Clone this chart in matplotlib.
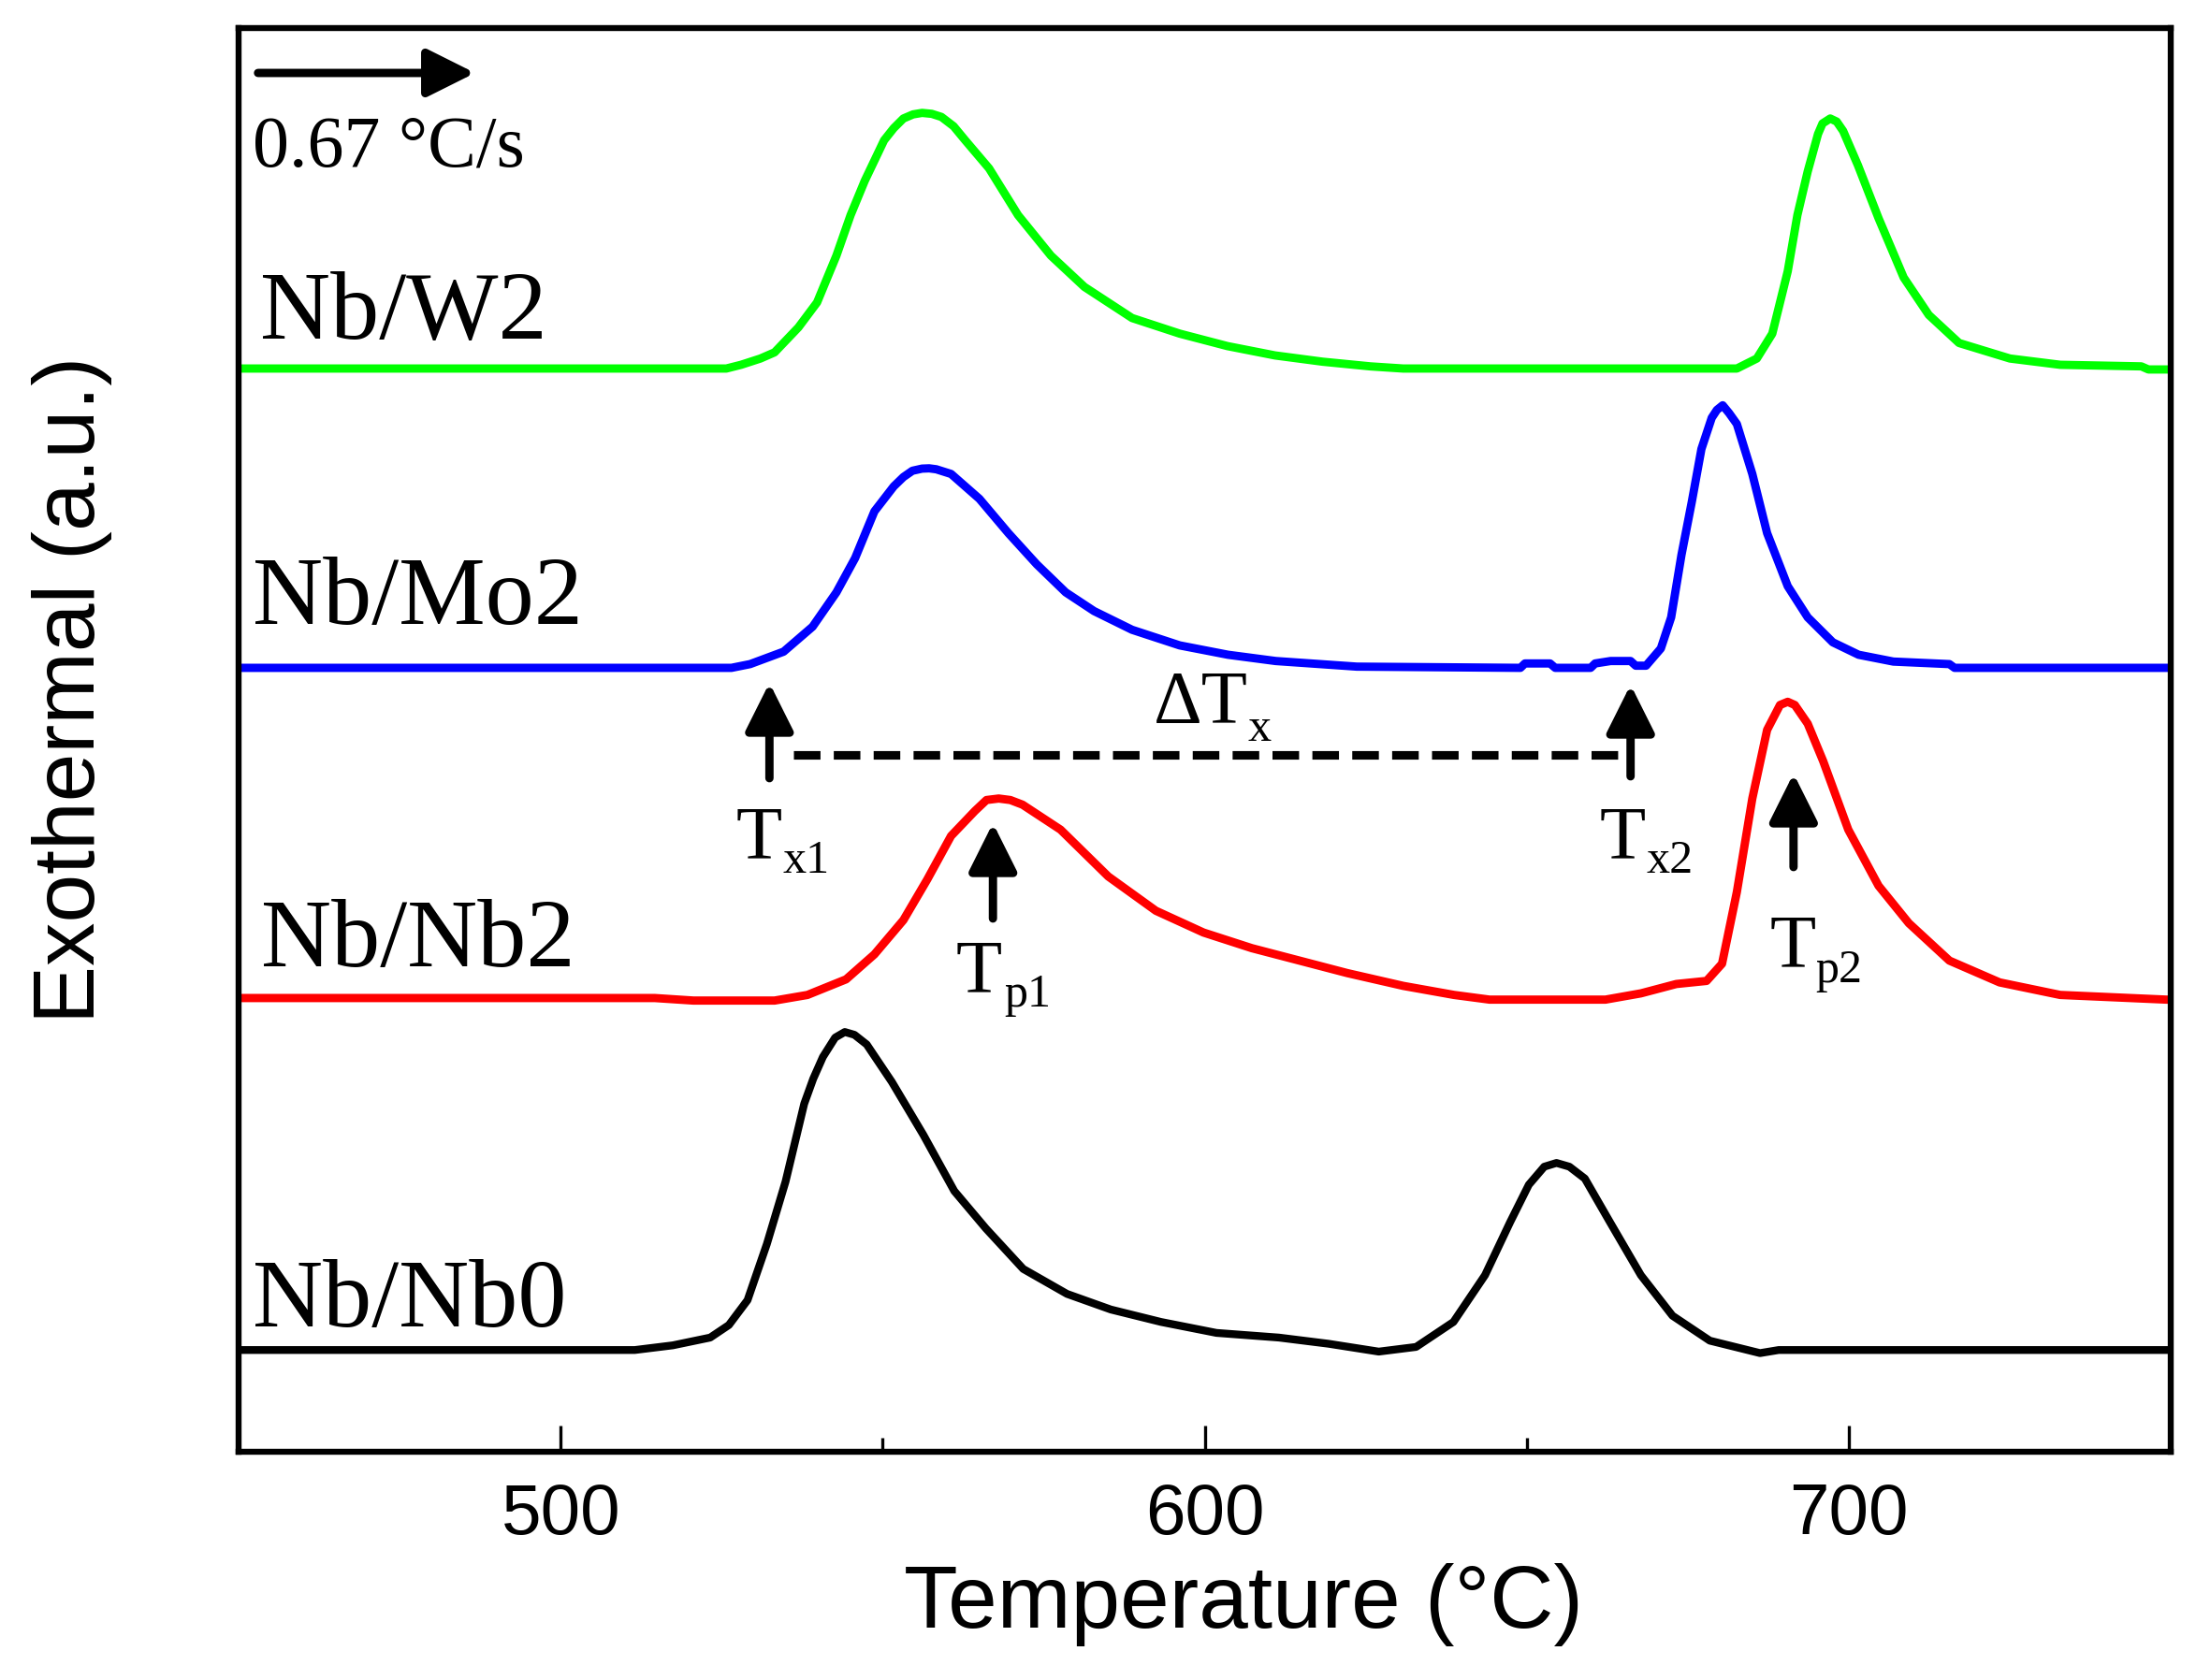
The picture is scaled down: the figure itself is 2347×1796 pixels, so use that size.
import matplotlib
matplotlib.use('Agg')
import numpy as np
import matplotlib.pyplot as plt
from matplotlib.ticker import MultipleLocator

# DSC traces: temperature (C) and heat flow above each baseline (a.u.)
w2_temp = [450, 525.7, 528.0, 531.0, 533.2, 536.9, 539.8, 542.8, 545.0, 547.2, 550.2, 551.7,
           553.2, 554.7, 556.1, 557.6, 559.1, 561.0, 562.8, 566.5, 571.0, 576.1, 581.3, 588.7,
           596.1, 603.5, 610.9, 618.3, 625.7, 630.8, 682.6, 685.7, 688.1, 690.5, 692.0, 693.6,
           695.2, 695.9, 697.1, 698.1, 699.1, 701.4, 704.6, 708.5, 712.4, 717.1, 725.0, 732.8,
           745.4, 746.5, 750]
w2_heat = [0, 0, 4, 10.7, 17.3, 44, 70.7, 120.7, 164, 200.7, 244, 257,
           267.3, 271.7, 273.3, 272.3, 269, 259, 244, 214, 164, 120.7, 87.3, 54,
           37.3, 24, 14, 7.3, 2.3, 0, 0, 10.7, 37.3, 104, 164, 210.7,
           250.7, 262, 267.3, 264, 254, 217.3, 160.7, 97.3, 57.3, 27.3, 10.7, 4,
           2.3, -1, -1]

mo2_temp = [450, 526.5, 529.4, 534.6, 539.1, 542.8, 545.7, 548.7, 551.7, 553.2, 554.6, 556.1,
            557.2, 558.3, 560.6, 565.0, 569.5, 573.9, 578.4, 582.8, 588.7, 596.1, 603.6, 611.0,
            623.6, 649.0, 649.7, 653.6, 654.4, 659.9, 660.6, 663.0, 666.1, 666.9, 668.5, 670.8,
            672.4, 674.0, 675.6, 677.1, 678.7, 679.5, 680.4, 681.4, 682.6, 685.0, 687.3, 690.5,
            693.6, 697.5, 701.5, 706.9, 715.6, 716.4, 750]
mo2_heat = [0, 0, 4, 17.3, 44, 80.7, 117.3, 167.3, 194, 204, 210.7, 213,
            213.3, 212.3, 207.3, 180.7, 144, 110.7, 80.7, 60.7, 40.7, 24, 14, 7.3,
            1.3, 0, 4.7, 4.7, 0, 0, 4.7, 7.3, 7.3, 2.3, 2.3, 20.7,
            54, 120.7, 177.3, 234, 267.3, 275.7, 280.7, 272.3, 260.7, 207.3, 144, 87.3,
            54, 27.3, 14, 6.7, 4, 0, 0]

nb2_temp = [450, 514.6, 520.6, 533.2, 538.3, 544.3, 548.7, 553.2, 556.9, 560.6, 564.3, 566.1,
            568.0, 569.8, 571.7, 577.6, 585.0, 592.4, 599.8, 607.3, 614.7, 622.1, 630.8, 638.7,
            644.2, 662.2, 667.7, 673.2, 677.9, 680.3, 682.6, 685.0, 687.3, 689.3, 690.5, 691.6,
            693.6, 696.0, 699.9, 704.6, 709.3, 715.6, 723.4, 732.8, 749.3, 750]
nb2_heat = [0, 0, -2.7, -2.7, 3.3, 20, 46.7, 83.3, 126.7, 173.3, 200, 211.7,
            213.3, 211.7, 206.7, 180, 130, 93.3, 70, 53.3, 40, 26.7, 13, 3.3,
            -1.7, -1.7, 5, 15, 18.3, 36.7, 113.3, 213.3, 286.7, 313.3, 316.7, 313.3,
            293.3, 253.3, 180, 120, 80, 40, 16.7, 3.3, -1.7, -1.7]

nb0_temp = [450, 511.5, 517.4, 523.2, 526.1, 529.0, 532.0, 534.9, 537.8, 539.2, 540.7, 542.6,
            544.1, 545.6, 547.5, 551.4, 556.3, 561.1, 566.0, 571.8, 578.6, 585.4, 593.2, 601.8,
            611.5, 619.2, 627.0, 632.8, 638.6, 643.5, 647.4, 650.3, 652.7, 654.6, 656.6, 659.0,
            662.9, 667.7, 672.6, 678.4, 686.2, 689.1, 750]
nb0_heat = [0, 0, 5, 13.3, 26.7, 53.3, 113.3, 180, 263.3, 290, 313.3, 334,
            340, 337, 326.7, 286.7, 230, 170, 130, 86.7, 60, 43.3, 30, 18.3,
            13.3, 6.7, -1.7, 3.3, 30, 80, 136.7, 176.7, 196, 200, 196, 183.3,
            136.7, 80, 36.7, 10, -3.3, 0, 0]

# vertical stacking of the curves
offsets = {'Nb/W2': 1158, 'Nb/Mo2': 838, 'Nb/Nb2': 485, 'Nb/Nb0': 108.7}

# characteristic temperatures marked on the plot
tx1, tx2 = 532.4, 666.1
tp1, tp2 = 567.1, 691.4

serif = 'Liberation Serif'
plt.rcParams['font.family'] = ['Liberation Sans', 'DejaVu Sans']

fig = plt.figure(figsize=(11.735, 8.98), dpi=200)
ax = fig.add_axes([0.1087, 0.1359, 0.8799, 0.8474])

curves = [
    (nb0_temp, nb0_heat, 'Nb/Nb0', 'black', 3.0),
    (nb2_temp, nb2_heat, 'Nb/Nb2', '#ff0000', 3.2),
    (mo2_temp, mo2_heat, 'Nb/Mo2', '#0000ff', 3.2),
    (w2_temp, w2_heat, 'Nb/W2', '#00ff00', 3.2),
]
for temp, heat, name, color, lw in curves:
    ax.plot(temp, np.array(heat) + offsets[name], color=color, lw=lw,
            solid_joinstyle='round')

# sample names
ax.text(453.3, 1190, 'Nb/W2', family=serif, fontsize=37.5, va='baseline')
ax.text(452.2, 885, 'Nb/Mo2', family=serif, fontsize=37.5, va='baseline')
ax.text(453.5, 519, 'Nb/Nb2', family=serif, fontsize=37.5, va='baseline')
ax.text(452.2, 134, 'Nb/Nb0', family=serif, fontsize=37.5, va='baseline')

# heating rate
arrow_kw = dict(arrowstyle='-|>,head_length=0.4,head_width=0.2', color='black',
                lw=3.2, mutation_scale=39, shrinkA=0, shrinkB=0)
ax.annotate('', xy=(486.7, 1474), xytext=(453.0, 1474), arrowprops=arrow_kw)
ax.text(452.2, 1374, '0.67 \u00b0C/s', family=serif, fontsize=28, va='baseline')

# onset / peak arrows
ax.annotate('', xy=(tx1, 822), xytext=(tx1, 720), arrowprops=arrow_kw)
ax.annotate('', xy=(tx2, 820), xytext=(tx2, 722), arrowprops=arrow_kw)
ax.annotate('', xy=(tp1, 672), xytext=(tp1, 570), arrowprops=arrow_kw)
ax.annotate('', xy=(tp2, 725), xytext=(tp2, 625), arrowprops=arrow_kw)

# supercooled liquid region
ax.plot([536.1, 664.6], [745, 745], color='black', lw=3.3, ls=(0, (3.1, 1.55)))


def sub_label(x, y, main, sx, sy, sub):
    ax.text(x, y, main, family=serif, fontsize=29, va='baseline')
    ax.text(sx, sy, sub, family=serif, fontsize=18, va='baseline')


sub_label(527.2, 635, 'T', 534.4, 619, 'x1')
sub_label(661.3, 635, 'T', 668.5, 619, 'x2')
sub_label(561.3, 492, 'T', 568.9, 476, 'p1')
sub_label(687.7, 519, 'T', 694.8, 502, 'p2')
sub_label(592.0, 779, '\u0394T', 606.6, 760, 'x')

ax.set_xlim(450, 750)
ax.set_ylim(0, 1522)
ax.set_yticks([])
ax.xaxis.set_major_locator(MultipleLocator(100))
ax.xaxis.set_minor_locator(MultipleLocator(50))
ax.tick_params(axis='x', which='major', direction='in', length=10, width=1.2,
               labelsize=27.5, pad=12)
ax.tick_params(axis='x', which='minor', direction='in', length=5.4, width=1.2)
for sp in ax.spines.values():
    sp.set_linewidth(2.3)

ax.set_xlabel('Temperature (\u00b0C)', fontsize=34)
ax.xaxis.set_label_coords(0.52, -0.078)
ax.set_ylabel('Exothermal (a.u.)', fontsize=33.5)
ax.yaxis.set_label_coords(-0.0654, 0.535)

fig.savefig('out.png', dpi=200)
